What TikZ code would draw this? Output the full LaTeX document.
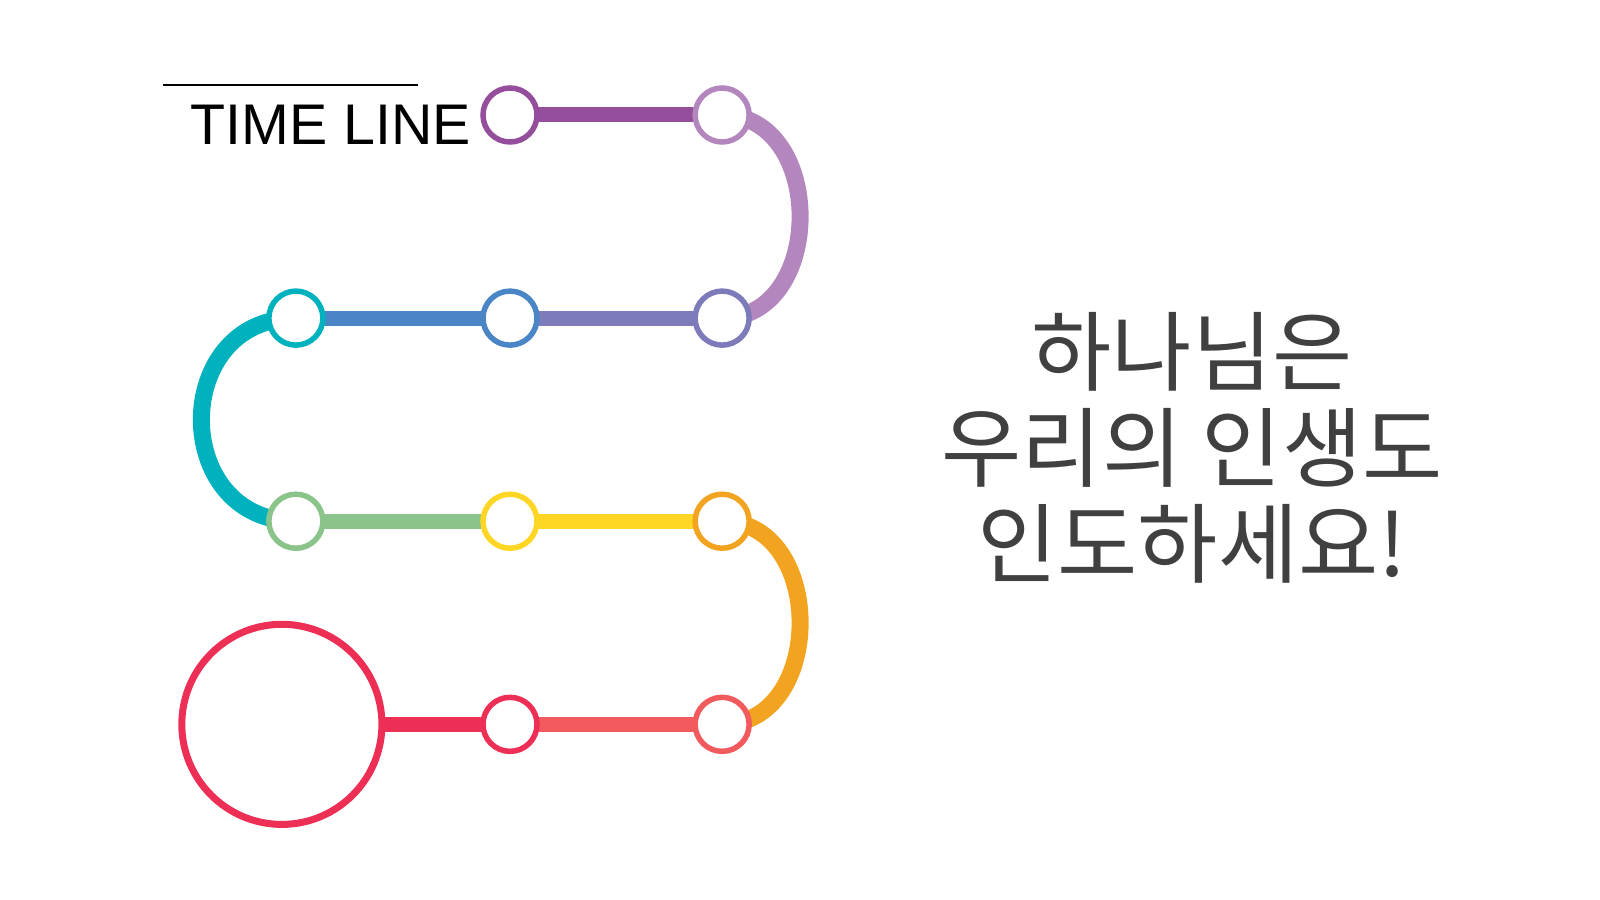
\documentclass[tikz,border=0pt]{standalone}
\usepackage{fontspec}
\setmainfont{Liberation Sans}
\newfontfamily\kofont{Noto Sans CJK KR}
\usetikzlibrary{positioning, backgrounds}
\definecolor{plum}{HTML}{954E9B}
\definecolor{lilac}{HTML}{B387BE}
\definecolor{lavender}{HTML}{7E7BBB}
\definecolor{steel}{HTML}{4A86C6}
\definecolor{lagoon}{HTML}{00B2BE}
\definecolor{sage}{HTML}{8BC48A}
\definecolor{sun}{HTML}{FFD624}
\definecolor{amber}{HTML}{F2A421}
\definecolor{coral}{HTML}{F15B5D}
\definecolor{rose}{HTML}{ED2F56}
\definecolor{ink}{HTML}{404040}

\begin{document}
\begin{tikzpicture}[x=0.01cm, y=0.01cm, node distance=2.03cm and 2.12cm, on grid,
		stop/.style={circle, draw, fill=white, line width=0.055cm, minimum size=0.54cm, inner sep=0pt},
		goal/.style={circle, draw, fill=white, line width=0.07cm, minimum size=2cm, inner sep=0pt},
		line/.style={draw, line width=0.15cm},
		turnline/.style={draw, line width=0.17cm}]
	\useasboundingbox (0,0) rectangle (1600,900);
	
	\node [stop, draw=plum] (s1) at (510,785) {};
	\node [stop, draw=lilac, right=of s1] (s2) {};
	\node [stop, draw=lavender, below=of s2] (s3) {};
	\node [stop, draw=steel, left=of s3] (s4) {};
	\node [stop, draw=lagoon, left=2.14cm of s4] (s5) {};
	\node [stop, draw=sage, below=of s5] (s6) {};
	\node [stop, draw=sun, right=2.14cm of s6] (s7) {};
	\node [stop, draw=amber, right=of s7] (s8) {};
	\node [stop, draw=coral, below=of s8] (s9) {};
	\node [stop, draw=rose, left=of s9] (s10) {};
	\node [goal, draw=rose, left=2.28cm of s10] (goal) {};
	
	\node [anchor=base west, inner sep=0pt, font=\fontsize{16.3}{19}\selectfont] (title) at (190,755) {TIME LINE};
	\draw [line width=0.02cm] (163,815) -- (418,815);
	
	\node [text=ink, align=center, font=\kofont\fontsize{24.8}{27.3}\selectfont] (verse) at (1192,452) {하나님은\\우리의 인생도\\인도하세요!};
	
	% Liens
	\begin{scope}[on background layer]
		\path [line, plum] (s1.center) -- (s2.center);
		\path [turnline, lilac] (s2.center) .. controls +(104,0) and +(104,0) .. (s3.center);
		\path [line, lavender] (s3.center) -- (s4.center);
		\path [line, steel] (s4.center) -- (s5.center);
		\path [turnline, lagoon] (s5.center) .. controls +(-126,0) and +(-126,0) .. (s6.center);
		\path [line, sage] (s6.center) -- (s7.center);
		\path [line, sun] (s7.center) -- (s8.center);
		\path [turnline, amber] (s8.center) .. controls +(104,0) and +(104,0) .. (s9.center);
		\path [line, coral] (s9.center) -- (s10.center);
		\path [line, rose] (s10.center) -- (goal.center);
	\end{scope}
\end{tikzpicture}
\end{document}
